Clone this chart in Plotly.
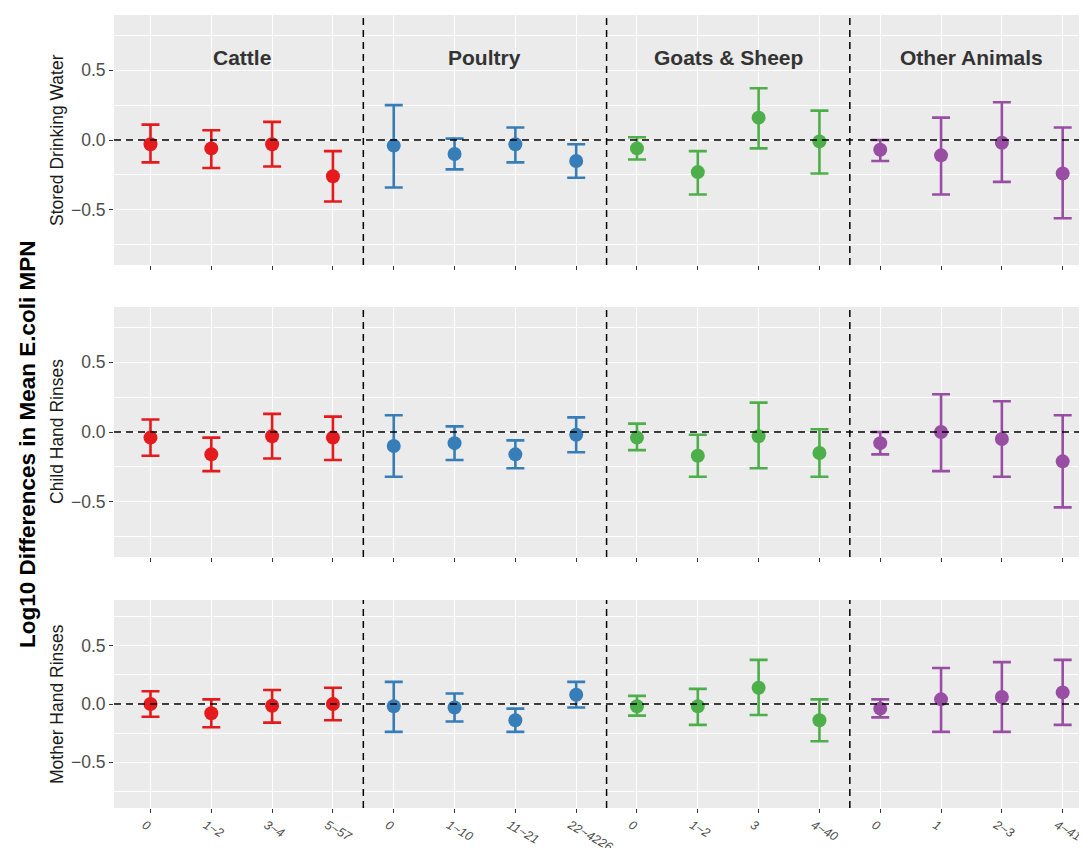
import plotly.graph_objects as go

# The page body adds an 8px offset; figure is sized to fill the rest of the window.
OFF = 8
W, H = 1087 - OFF, 848 - OFF

# ---------------- data ----------------
tick_labels = ["0", "1~2", "3~4", "5~57",
               "0", "1~10", "11~21", "22~4226",
               "0", "1~2", "3", "4~40",
               "0", "1", "2~3", "4~41"]
groups = ["Cattle", "Poultry", "Goats & Sheep", "Other Animals"]
group_colors = ["#E41A1C", "#377EB8", "#4DAF4A", "#984EA3"]
rows = ["Stored Drinking Water", "Child Hand Rinses", "Mother Hand Rinses"]

# Stored Drinking Water
sdw_mean  = [-0.03, -0.06, -0.03, -0.26,  -0.04, -0.10, -0.03, -0.15,  -0.06, -0.23, 0.16, -0.01,  -0.07, -0.11, -0.02, -0.24]
sdw_upper = [0.11, 0.07, 0.13, -0.08,   0.25, 0.01, 0.09, -0.03,   0.02, -0.08, 0.37, 0.21,   0.00, 0.16, 0.27, 0.09]
sdw_lower = [-0.16, -0.20, -0.19, -0.44,  -0.34, -0.21, -0.16, -0.27,  -0.14, -0.39, -0.06, -0.24,  -0.15, -0.39, -0.30, -0.56]

# Child Hand Rinses
chr_mean  = [-0.04, -0.16, -0.03, -0.04,  -0.10, -0.08, -0.16, -0.02,  -0.04, -0.17, -0.03, -0.15,  -0.08, 0.00, -0.05, -0.21]
chr_upper = [0.09, -0.04, 0.13, 0.11,   0.12, 0.04, -0.06, 0.105,   0.06, -0.02, 0.21, 0.02,   0.00, 0.27, 0.22, 0.12]
chr_lower = [-0.17, -0.28, -0.19, -0.20,  -0.32, -0.20, -0.26, -0.145,  -0.13, -0.32, -0.26, -0.32,  -0.16, -0.28, -0.32, -0.54]

# Mother Hand Rinses
mhr_mean  = [0.00, -0.08, -0.015, 0.00,  -0.02, -0.03, -0.14, 0.08,  -0.02, -0.02, 0.14, -0.14,  -0.04, 0.04, 0.06, 0.10]
mhr_upper = [0.11, 0.04, 0.12, 0.14,   0.19, 0.09, -0.04, 0.19,   0.07, 0.13, 0.38, 0.04,   0.04, 0.31, 0.36, 0.38]
mhr_lower = [-0.11, -0.20, -0.16, -0.14,  -0.24, -0.15, -0.24, -0.03,  -0.10, -0.18, -0.095, -0.32,  -0.115, -0.24, -0.24, -0.18]

row_data = [(sdw_mean, sdw_upper, sdw_lower),
            (chr_mean, chr_upper, chr_lower),
            (mhr_mean, mhr_upper, mhr_lower)]

# ---------------- layout helpers ----------------
FONT = "Liberation Sans, Arial, Helvetica, sans-serif"
# panel pixel extents (top, bottom) in window pixels
panel_px = [(15, 265), (307, 557), (600, 808)]
x_left_px = 114
x_pos = list(range(1, len(tick_labels) + 1))
xr = [0.4, 16.4]
yr = [-0.895, 0.895]


def px_x(x):
    return (x - OFF) / W


def px_y(y):
    return 1 - (y - OFF) / H


fig = go.Figure()

for r, (mean, upper, lower) in enumerate(row_data):
    xa = "x" if r == 0 else f"x{r+1}"
    ya = "y" if r == 0 else f"y{r+1}"
    for g in range(len(groups)):
        idx = list(range(g * 4, g * 4 + 4))
        xs = [x_pos[i] for i in idx]
        ys = [mean[i] for i in idx]
        ep = [upper[i] - mean[i] for i in idx]
        em = [mean[i] - lower[i] for i in idx]
        fig.add_trace(go.Scatter(
            x=xs, y=ys, mode="markers", xaxis=xa, yaxis=ya,
            marker=dict(color=group_colors[g], size=14, line=dict(width=0)),
            error_y=dict(type="data", symmetric=False, array=ep, arrayminus=em,
                         color=group_colors[g], thickness=2.6, width=9),
            showlegend=False, hoverinfo="skip"))

layout = dict(
    width=W, height=H,
    margin=dict(l=0, r=0, t=0, b=0, autoexpand=False),
    paper_bgcolor="white", plot_bgcolor="#EBEBEB",
    font=dict(family=FONT, color="#4D4D4D"),
    showlegend=False,
)

shapes = []
annotations = []
for r in range(3):
    top, bot = panel_px[r]
    key = "" if r == 0 else str(r + 1)
    layout[f"xaxis{key}"] = dict(
        domain=[px_x(x_left_px), 1.0], range=xr, anchor=f"y{key}",
        tickmode="array", tickvals=x_pos,
        ticktext=tick_labels if r == 2 else [""] * len(x_pos),
        showticklabels=(r == 2), tickangle=30, ticklabeloverflow="allow",
        ticklabelshift=-6,
        tickfont=dict(size=12.5, color="#4D4D4D", family=FONT, style="italic"),
        ticks="outside", ticklen=4, tickwidth=1, tickcolor="#333333",
        showgrid=True, gridcolor="white", gridwidth=1.4,
        zeroline=False, showline=False, fixedrange=True, automargin=False,
    )
    layout[f"yaxis{key}"] = dict(
        domain=[px_y(bot), px_y(top)], range=yr, anchor=f"x{key}",
        tickmode="array", tickvals=[-0.5, 0.0, 0.5], ticktext=["\u22120.5", "0.0", "0.5"],
        tickfont=dict(size=17.5, color="#4D4D4D", family=FONT),
        ticks="outside", ticklen=4, tickwidth=1, tickcolor="#333333",
        showgrid=True, gridcolor="white", gridwidth=1.4,
        minor=dict(tickvals=[-0.75, -0.25, 0.25, 0.75], showgrid=True,
                   gridcolor="white", gridwidth=0.7, ticks=""),
        zeroline=False, showline=False, fixedrange=True, automargin=False,
    )
    xa = "x" if r == 0 else f"x{r+1}"
    ya = "y" if r == 0 else f"y{r+1}"
    # zero dashed line
    shapes.append(dict(type="line", xref=f"{xa} domain", yref=ya, x0=0, x1=1, y0=0, y1=0,
                       line=dict(color="black", width=1.5, dash="7px,5px"), layer="above"))
    for b in [4.5, 8.5, 12.5]:
        shapes.append(dict(type="line", xref=xa, yref=f"{ya} domain", x0=b, x1=b, y0=0, y1=1,
                           line=dict(color="black", width=1.5, dash="7px,5px"), layer="above"))
    # row label
    annotations.append(dict(text=rows[r], xref="paper", yref="paper",
                            x=px_x(57), y=px_y((top + bot) / 2), textangle=-90,
                            showarrow=False, xanchor="center", yanchor="middle",
                            font=dict(size=17.5, color="#1A1A1A", family=FONT)))

# group labels in top panel
for g, name in enumerate(groups):
    annotations.append(dict(text=f"<b>{name}</b>", xref="x", yref="y",
                            x=g * 4 + 2.5, y=0.59, showarrow=False,
                            xanchor="center", yanchor="middle",
                            font=dict(size=21, color="#333333", family=FONT)))

# overall y title
annotations.append(dict(text="<b>Log10 Differences in Mean E.coli MPN</b>", xref="paper", yref="paper",
                        x=px_x(27), y=px_y(444), textangle=-90, showarrow=False,
                        xanchor="center", yanchor="middle",
                        font=dict(size=22.5, color="black", family=FONT)))

layout["shapes"] = shapes
layout["annotations"] = annotations
fig.update_layout(**layout)

fig.write_html("out.html")
